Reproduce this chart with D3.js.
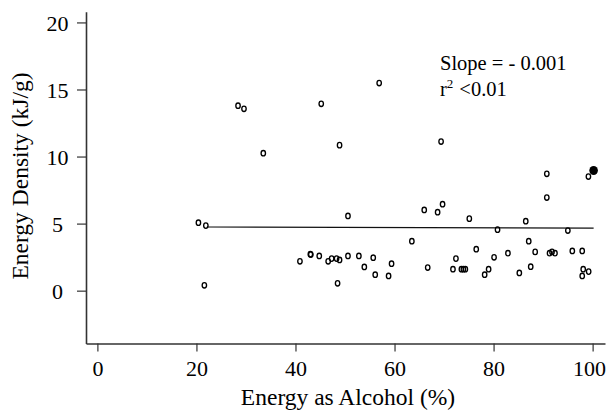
<!DOCTYPE html>
<html>
<head>
<meta charset="utf-8">
<script src="https://cdn.jsdelivr.net/npm/d3@7"></script>
<style>
  html, body { margin: 0; padding: 0; background: #fff; }
  svg { display: block; font-family: "Liberation Serif", "Times New Roman", serif; }
</style>
</head>
<body>
<svg id="chart" width="608" height="410"></svg>
<script>
// Energy as alcohol (%) vs energy density (kJ/g)
const alcoholPct = [
  20.4, 21.9, 21.6, 28.4, 29.6, 33.5, 45.2, 48.9, 56.9, 69.4,
  40.9, 43.1, 43.0, 44.8, 46.6, 47.3, 48.3, 48.9, 48.5, 50.6,
  50.6, 52.8, 53.9, 55.7, 56.1, 58.8, 59.4, 63.5, 66.0, 66.7,
  68.7, 69.7, 71.8, 72.4, 73.5, 73.9, 74.3, 75.1, 76.5, 78.2,
  79.0, 80.1, 80.8, 82.9, 85.2, 86.5, 87.1, 87.5, 88.4, 90.75,
  90.75, 91.3, 91.8, 92.4, 95.0, 95.9, 97.9, 98.1, 99.2, 97.9,
  99.15
];
const energyDensity = [
  5.07, 4.85, 0.40, 13.79, 13.56, 10.25, 13.93, 10.85, 15.48, 11.12,
  2.19, 2.69, 2.72, 2.59, 2.19, 2.39, 2.39, 2.29, 0.55, 2.59,
  5.57, 2.59, 1.77, 2.46, 1.19, 1.10, 2.01, 3.69, 6.02, 1.72,
  5.85, 6.45, 1.60, 2.39, 1.60, 1.60, 1.60, 5.37, 3.09, 1.19,
  1.60, 2.49, 4.55, 2.79, 1.32, 5.18, 3.69, 1.79, 2.89, 8.71,
  6.94, 2.79, 2.89, 2.79, 4.48, 2.96, 2.96, 1.60, 1.42, 1.10,
  8.51
];
// pure spirits cluster drawn as a filled dot
const spiritsPoint = [100.2, 8.96];
// fitted line end points
const fitX = [22.1, 100.2];
const fitY = [4.75, 4.66];

const xTicks = [0, 20, 40, 60, 80, 100];
const yTicks = [0, 5, 10, 15, 20];

const svg = d3.select('#chart');

const x = d3.scaleLinear().domain([-2.3, 102.5]).range([86, 605]);
const y = d3.scaleLinear().domain([-3.94, 20.8]).range([343.5, 11.7]);

const axisColor = '#333';

// Y axis (labels centred in the left gutter)
const yAxis = svg.append('g')
  .attr('transform', 'translate(86,0)')
  .call(d3.axisLeft(y).tickValues(yTicks).tickSize(9).tickSizeOuter(0));
yAxis.select('.domain').attr('stroke', axisColor).attr('stroke-width', 1.6);
yAxis.selectAll('.tick line').attr('stroke', axisColor).attr('stroke-width', 1.2);
yAxis.selectAll('.tick text')
  .attr('font-family', '"Liberation Serif", serif').attr('font-size', 22).attr('fill', '#000')
  .attr('x', -28.5).attr('text-anchor', 'middle')
  .attr('dy', '0.355em');

// X axis
const xAxis = svg.append('g')
  .attr('transform', 'translate(0,343.5)')
  .call(d3.axisBottom(x).tickValues(xTicks).tickSize(8).tickSizeOuter(0).tickPadding(9));
xAxis.select('.domain').attr('stroke', axisColor).attr('stroke-width', 1.6);
xAxis.selectAll('.tick line').attr('stroke', axisColor).attr('stroke-width', 1.2);
xAxis.selectAll('.tick text')
  .attr('font-family', '"Liberation Serif", serif').attr('font-size', 22).attr('fill', '#000')
  .attr('dx', d => d === 100 ? -3.5 : 0);

// Axis titles
svg.append('text')
  .attr('x', 348).attr('y', 405)
  .attr('text-anchor', 'middle').attr('font-size', 23.5)
  .text('Energy as Alcohol (%)');

svg.append('text')
  .attr('transform', 'translate(28,176) rotate(-90)')
  .attr('text-anchor', 'middle').attr('font-size', 23.5)
  .text('Energy Density (kJ/g)');

// Regression line
svg.append('line')
  .attr('x1', x(fitX[0])).attr('y1', y(fitY[0]))
  .attr('x2', x(fitX[1])).attr('y2', y(fitY[1]))
  .attr('stroke', '#111').attr('stroke-width', 1.1);

// Points
const pts = alcoholPct.map((a, i) => ({ a, e: energyDensity[i] }));
svg.append('g').selectAll('ellipse')
  .data(pts)
  .join('ellipse')
  .attr('cx', d => x(d.a)).attr('cy', d => y(d.e))
  .attr('rx', 2.2).attr('ry', 2.7)
  .attr('fill', 'none').attr('stroke', '#000').attr('stroke-width', 1.35);

svg.append('ellipse')
  .attr('cx', x(spiritsPoint[0])).attr('cy', y(spiritsPoint[1]))
  .attr('rx', 4.3).attr('ry', 4.6)
  .attr('fill', '#000');

// Annotation
svg.append('text')
  .attr('x', 440).attr('y', 70).attr('font-size', 20.5)
  .text('Slope = - 0.001');
const r2 = svg.append('text')
  .attr('x', 440).attr('y', 96).attr('font-size', 20.5);
r2.append('tspan').text('r');
r2.append('tspan').attr('font-size', 13).attr('dy', -8).text('2');
r2.append('tspan').attr('dy', 8).attr('dx', 6).text('<0.01');
</script>
</body>
</html>
